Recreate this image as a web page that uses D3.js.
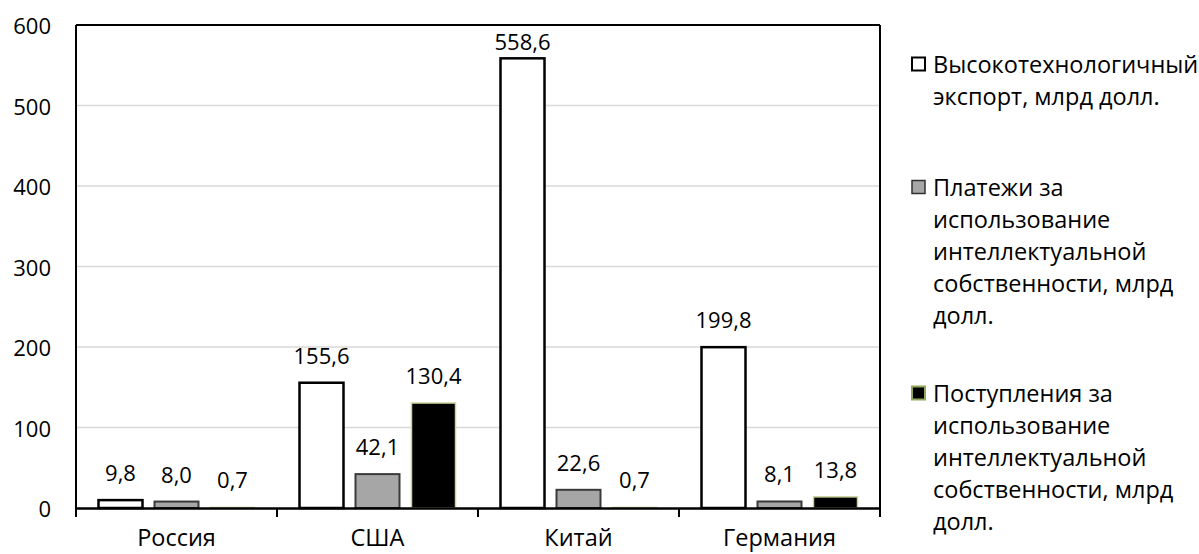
<!DOCTYPE html>
<html>
<head>
<meta charset="utf-8">
<script src="https://cdn.jsdelivr.net/npm/d3@7"></script>
<style>
  html, body { margin: 0; padding: 0; background: #fff; }
  svg text { font-family: "Open Sans", "Noto Sans", sans-serif; fill: #000; }
</style>
</head>
<body>
<svg id="chart" width="1199" height="554"></svg>
<script>
const categories = ["Россия", "США", "Китай", "Германия"];
const seriesNames = [
  "Высокотехнологичный экспорт, млрд долл.",
  "Платежи за использование интеллектуальной собственности, млрд долл.",
  "Поступления за использование интеллектуальной собственности, млрд долл."
];
const hiTechExport = [9.8, 155.6, 558.6, 199.8];
const ipPayments   = [8.0, 42.1, 22.6, 8.1];
const ipReceipts   = [0.7, 130.4, 0.7, 13.8];
const valueLabels  = [
  ["9,8", "155,6", "558,6", "199,8"],
  ["8,0", "42,1", "22,6", "8,1"],
  ["0,7", "130,4", "0,7", "13,8"]
];
const yTicks = [0, 100, 200, 300, 400, 500, 600];
const legendLines = [
  ["Высокотехнологичный", "экспорт, млрд долл."],
  ["Платежи за", "использование", "интеллектуальной", "собственности, млрд", "долл."],
  ["Поступления за", "использование", "интеллектуальной", "собственности, млрд", "долл."]
];

const seriesValues = [hiTechExport, ipPayments, ipReceipts];
const styles = [
  { fill: "#ffffff", stroke: "#000000", sw: 2.5 },
  { fill: "#a6a6a6", stroke: "#3a3a3a", sw: 2 },
  { fill: "#000000", stroke: "#c9d49a", sw: 1.5 }
];
const legendStyles = [
  { fill: "#ffffff", stroke: "#000000", sw: 2 },
  { fill: "#a6a6a6", stroke: "#303030", sw: 1.5 },
  { fill: "#000000", stroke: "#8fa85a", sw: 2 }
];

const svg = d3.select("#chart");
const L = 76, R = 880, T = 25, B = 508;

const x = d3.scaleBand().domain(categories).range([L, R]).paddingInner(0).paddingOuter(0);
const xi = d3.scaleBand().domain([0, 1, 2]).range([0, x.bandwidth()])
  .paddingInner(12 / 56).paddingOuter(0.4018);
const y = d3.scaleLinear().domain([0, 600]).range([B, T]);

// gridlines
svg.append("g").selectAll("line").data(yTicks.filter(d => d > 0 && d < 600)).join("line")
  .attr("x1", L).attr("x2", R)
  .attr("y1", d => y(d)).attr("y2", d => y(d))
  .attr("stroke", "#d9d9d9").attr("stroke-width", 1.5);

// y tick labels
svg.append("g").selectAll("text").data(yTicks).join("text")
  .attr("x", 51).attr("y", d => y(d))
  .attr("text-anchor", "end").attr("dominant-baseline", "central")
  .attr("font-size", 22)
  .text(d => d);

// bars
const data = [];
categories.forEach((c, ci) => {
  seriesValues.forEach((vals, si) => data.push({ c, ci, si, v: vals[ci], label: valueLabels[si][ci] }));
});

svg.append("g").selectAll("rect").data(data).join("rect")
  .attr("x", d => x(d.c) + xi(d.si))
  .attr("y", d => y(d.v))
  .attr("width", xi.bandwidth())
  .attr("height", d => y(0) - y(d.v))
  .attr("fill", d => styles[d.si].fill)
  .attr("stroke", d => styles[d.si].stroke)
  .attr("stroke-width", d => styles[d.si].sw);

// value labels (kept inside the plot area near the top)
svg.append("g").selectAll("text").data(data).join("text")
  .attr("x", d => x(d.c) + xi(d.si) + xi.bandwidth() / 2)
  .attr("y", d => Math.max(y(d.v) - 19, T + 25))
  .attr("text-anchor", "middle")
  .attr("font-size", 22)
  .text(d => d.label);

// frame
const frame = svg.append("g").attr("stroke", "#000").attr("stroke-width", 2).attr("fill", "none");
frame.append("line").attr("x1", L).attr("x2", R).attr("y1", T).attr("y2", T);
frame.append("line").attr("x1", L).attr("x2", L).attr("y1", T).attr("y2", B);
frame.append("line").attr("x1", R).attr("x2", R).attr("y1", T).attr("y2", B);
// x axis
const xAxis = svg.append("g").attr("transform", `translate(0,${B})`)
  .call(d3.axisBottom(x).tickSize(0).tickPadding(21));
xAxis.select(".domain").attr("stroke", "#000").attr("stroke-width", 2.5);
xAxis.selectAll("text").attr("font-size", 23.5).attr("font-family", "'Open Sans', 'Noto Sans', sans-serif").attr("fill", "#000");
// boundary ticks
const bounds = categories.map(c => x(c)).concat([R]);
svg.append("g").selectAll("line").data(bounds).join("line")
  .attr("x1", d => d).attr("x2", d => d)
  .attr("y1", B).attr("y2", B + 9)
  .attr("stroke", "#000").attr("stroke-width", 2);

// legend
const lineH = 32;
const itemTop = [64, 187, 393];
const lg = svg.append("g");
legendLines.forEach((lines, i) => {
  const g = lg.append("g");
  g.append("rect")
    .attr("x", 912).attr("y", itemTop[i] - 6.5)
    .attr("width", 13).attr("height", 13)
    .attr("fill", legendStyles[i].fill)
    .attr("stroke", legendStyles[i].stroke)
    .attr("stroke-width", legendStyles[i].sw);
  g.selectAll("text").data(lines).join("text")
    .attr("x", 933)
    .attr("y", (d, j) => itemTop[i] + j * lineH)
    .attr("dominant-baseline", "central")
    .attr("font-size", 23.5)
    .text(d => d);
});
</script>
</body>
</html>
